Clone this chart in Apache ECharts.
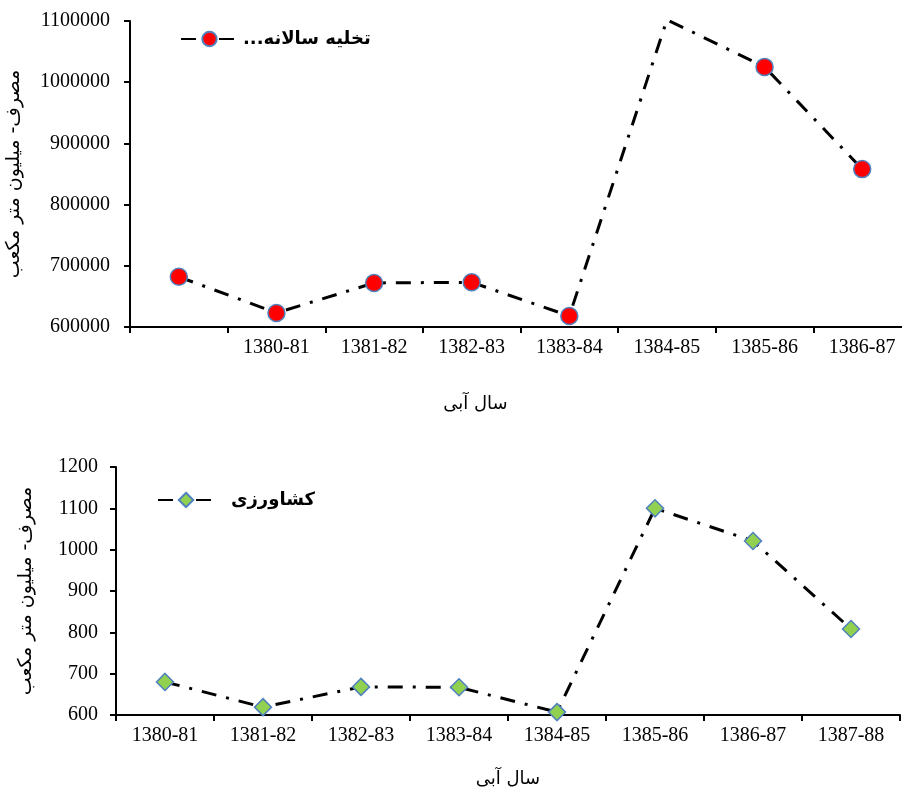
<!DOCTYPE html>
<html>
<head>
<meta charset="utf-8">
<script src="https://cdn.jsdelivr.net/npm/echarts@6/dist/echarts.min.js"></script>
<style>
  html, body { margin: 0; padding: 0; background: #fff; }
  #chart { width: 902px; height: 794px; }
</style>
</head>
<body>
<div id="chart"></div>
<script>
// NOTE - data
const topYears = ['', '1380-81', '1381-82', '1382-83', '1383-84', '1384-85', '1385-86', '1386-87']
const topValues = [682000, 623000, 672000, 673000, 618000, 1102000, 1025000, 858000]
const topAxis = { min: 600000, max: 1100000, interval: 100000 }

const bottomYears = ['1380-81', '1381-82', '1382-83', '1383-84', '1384-85', '1385-86', '1386-87', '1387-88']
const bottomValues = [680, 619, 668, 667, 607, 1100, 1021, 808]
const bottomAxis = { min: 600, max: 1200, interval: 100 }

const topName = 'تخلیه سالانه...\u200F'
const bottomName = 'کشاورزی'
const yName = 'مصرف- میلیون متر مکعب'
const xName = 'سال آبی'

const serif = "'Liberation Serif', 'Times New Roman', serif"
const arabic = "'DejaVu Sans', sans-serif"

const axisLine = { show: true, lineStyle: { color: '#000', width: 2 } }
const axisTick = { show: true, length: 6, lineStyle: { color: '#000', width: 2 } }
const dashDot = { color: '#000', width: 3, type: [15, 10, 3, 10] }

const xAxisOf = (gridIndex, data, gap, namePad) => ({
    type: 'category',
    gridIndex,
    data,
    boundaryGap: true,
    axisLine,
    axisTick: { ...axisTick, alignWithLabel: false },
    axisLabel: { color: '#000', fontFamily: serif, fontSize: 20, margin: 11, interval: 0 },
    splitLine: { show: false },
    name: xName,
    nameLocation: 'middle',
    nameGap: gap,
    nameTextStyle: { color: '#000', fontFamily: arabic, fontSize: 18, padding: [0, namePad, 0, 0] }
})

const yAxisOf = (gridIndex, range, gap, margin) => ({
    type: 'value',
    gridIndex,
    ...range,
    axisLine,
    axisTick,
    axisLabel: { color: '#000', fontFamily: serif, fontSize: 20, margin, formatter: v => String(v) },
    splitLine: { show: false },
    name: yName,
    nameLocation: 'middle',
    nameRotate: 90,
    nameGap: gap,
    nameTextStyle: { color: '#000', fontFamily: arabic, fontSize: 19 }
})

const myChart = echarts.init(document.querySelector('#chart'))
const option = {
    animation: false,
    backgroundColor: '#fff',
    grid: [
        { left: 130, top: 21, width: 781, height: 306, outerBoundsMode: 'none', containLabel: false },
        { left: 116, top: 467, width: 784, height: 248, outerBoundsMode: 'none', containLabel: false }
    ],
    legend: [
        {
            data: [topName],
            left: 175,
            top: 25,
            itemWidth: 57,
            itemHeight: 18,
            textStyle: { color: '#000', fontFamily: arabic, fontSize: 18, fontWeight: 'bold' }
        },
        {
            data: [bottomName],
            left: 152,
            top: 486,
            itemWidth: 56,
            itemHeight: 18,
            textStyle: { color: '#000', fontFamily: arabic, fontSize: 18, fontWeight: 'bold', padding: [0, 0, 0, 12] }
        }
    ],
    xAxis: [xAxisOf(0, topYears, 68, 90), xAxisOf(1, bottomYears, 55, 0)],
    yAxis: [yAxisOf(0, topAxis, 106, 20), yAxisOf(1, bottomAxis, 80, 18)],
    series: [
        {
            name: topName,
            type: 'line',
            xAxisIndex: 0,
            yAxisIndex: 0,
            data: topValues,
            clip: true,
            symbol: 'circle',
            symbolSize: 17,
            itemStyle: { color: '#ff0000', borderColor: '#4f81bd', borderWidth: 1.5 },
            lineStyle: dashDot
        },
        {
            name: bottomName,
            type: 'line',
            xAxisIndex: 1,
            yAxisIndex: 1,
            data: bottomValues,
            clip: true,
            symbol: 'diamond',
            symbolSize: 17,
            itemStyle: { color: '#92d050', borderColor: '#4f81bd', borderWidth: 1.5 },
            lineStyle: dashDot
        }
    ]
}
myChart.setOption(option)
</script>
</body>
</html>
